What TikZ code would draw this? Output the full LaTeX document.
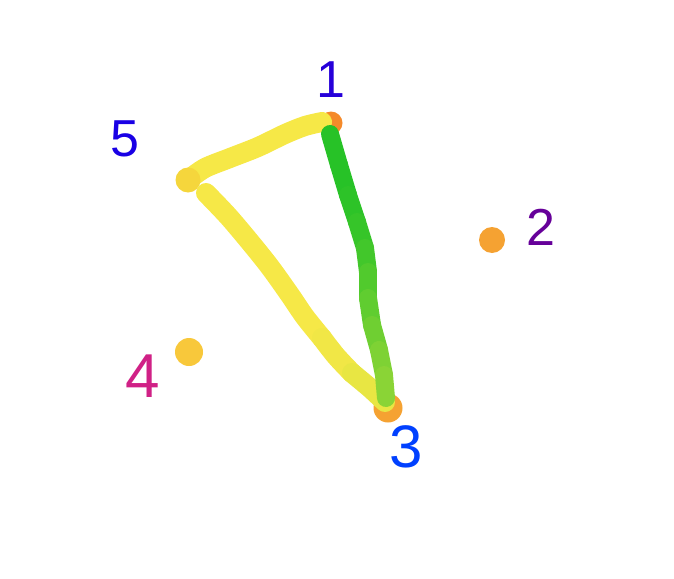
\documentclass[tikz,border=0pt]{standalone}
\usepackage{fontspec}
\setmainfont{Liberation Sans}
\definecolor{lineyellow}{HTML}{F6E847}
\definecolor{paleyellow}{HTML}{D6E33F}
\definecolor{grassgreen}{HTML}{27C227}
\definecolor{limegreen}{HTML}{A3D93A}
\definecolor{dotorange}{HTML}{F58A2A}
\definecolor{dotamber}{HTML}{F5A232}
\definecolor{dotgold}{HTML}{F8C83B}
\definecolor{dotyellow}{HTML}{F5D63C}
\tikzset{
  spot/.style={circle,inner sep=0pt,minimum size=#1},
  digit/.style={font=\fontsize{52}{52}\selectfont,inner sep=0pt}
}
\begin{document}
\begin{tikzpicture}[x=1pt,y=-1pt,line cap=round,line join=round]
  \useasboundingbox (0,0) rectangle (674,578);

  % Positions of the five points.
  \coordinate (p1) at (331,123);
  \coordinate (p2) at (492,240);
  \coordinate (p3) at (388,408);
  \coordinate (p4) at (189,352);
  \coordinate (p5) at (188,180);

  % The point marks that lie under the strokes.
  \node[spot=23pt,fill=dotorange] (dotone) at (p1) {};
  \node[spot=26pt,fill=dotamber] (dottwo) at (p2) {};
  \node[spot=29pt,fill=dotamber] (dotthree) at (p3) {};
  \node[spot=28pt,fill=dotgold] (dotfour) at (p4) {};

  % The yellow stroke from point 5 up to point 1.
  \draw[lineyellow,line width=20pt] plot[smooth] coordinates
   {(p5) (205,168) (230,158) (258,147) (285,134) (305,126) (322,122)};

  % The yellow stroke from point 5 down to point 3, paler near its end.
  \draw[lineyellow,line width=20pt] plot[smooth] coordinates
   {(206,193) (228,216) (250,242) (270,267) (290,295) (305,317) (322,338)};
  \draw[lineyellow!85!paleyellow,line width=20pt] plot[smooth] coordinates
   {(322,338) (336,356) (352,373)};
  \draw[lineyellow!55!paleyellow,line width=20pt] plot[smooth] coordinates
   {(352,373) (370,388) (385,402)};

  % The green stroke from point 1 down to point 3, fading to lime.
  \coordinate (g1) at (330,134);
  \coordinate (g2) at (339,165);
  \coordinate (g3) at (348,195);
  \coordinate (g4) at (357,222);
  \coordinate (g5) at (365,248);
  \coordinate (g6) at (368,272);
  \coordinate (g7) at (368,298);
  \coordinate (g8) at (372,325);
  \coordinate (g9) at (379,350);
  \coordinate (g10) at (384,375);
  \coordinate (g11) at (386,398);
  \foreach \from/\to/\pct in {g1/g2/100,g2/g3/100,g3/g4/95,g4/g5/88,g5/g6/78,
    g6/g7/66,g7/g8/54,g8/g9/42,g9/g10/30,g10/g11/20}{
   \draw[grassgreen!\pct!limegreen,line width=18pt] (\from) -- (\to);
  }

  % The mark of point 5 sits on top of its strokes.
  \node[spot=25pt,fill=dotyellow] (dotfive) at (p5) {};

  % Hand-written labels of the points.
  \node[digit,text=blue!70!violet] (labelone) at (331,80) {1};
  \node[digit,text=violet!80!blue] (labeltwo) at (541,227) {2};
  \node[digit,text=blue!75!cyan,font=\fontsize{60}{60}\selectfont] (labelthree) at (406,447) {3};
  \node[digit,text=magenta!70!violet,font=\fontsize{62}{62}\selectfont] (labelfour) at (143,376) {4};
  \node[digit,text=blue!80!violet] (labelfive) at (125,139) {5};
\end{tikzpicture}
\end{document}
